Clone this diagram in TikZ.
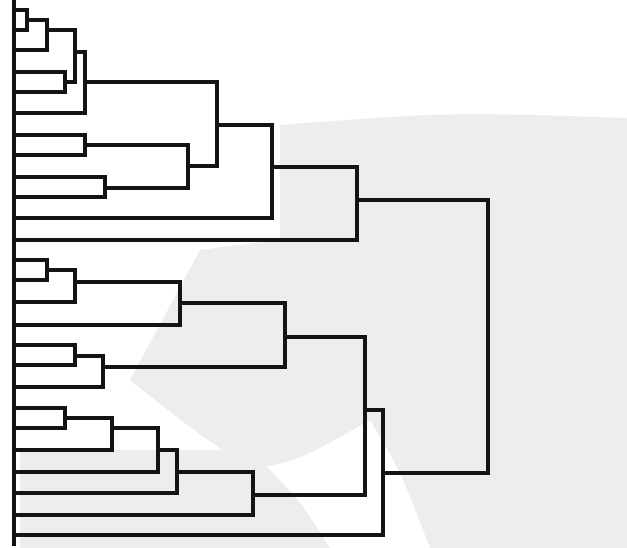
\documentclass[tikz,border=0pt]{standalone}
\begin{document}
\begin{tikzpicture}[x=1pt,y=-1pt,
  link/.style={line width=3.2pt,line join=miter,draw=black!92},
  vlink/.style={line width=4.4pt,line cap=rect,draw=black!92},
  axisline/.style={line width=4pt,draw=black!92},
  shade/.style={fill=black!7,draw=none}]
\useasboundingbox (0,0) rectangle (627,548);
% faint halftone background
\fill[shade] (280,125) .. controls (450,112) .. (627,118) -- (627,548) -- (430,548)
  .. controls (400,470) .. (370,420) .. controls (300,460) .. (250,470)
  .. controls (180,420) .. (130,380) -- (200,250) -- (280,240) -- cycle;
\fill[shade] (20,450) -- (250,450) .. controls (300,500) .. (330,548) -- (20,548) -- cycle;
% leaves
\foreach \i/\y in {1/10,2/30,3/50,4/72,5/92,6/113,7/135,8/155,9/177,10/197,
  11/218,12/240,13/260,14/280,15/302,16/325,17/345,18/365,19/387,20/408,
  21/428,22/450,23/472,24/493,25/515,26/535}
  \coordinate (l\i) at (14,\y);
% cluster nodes (x, outgoing y)
\coordinate (A) at (27,20);
\coordinate (B) at (47,30);
\coordinate (C) at (65,82);
\coordinate (D) at (75,52);
\coordinate (E) at (85,82);
\coordinate (F) at (85,145);
\coordinate (G) at (105,188);
\coordinate (H) at (188,166);
\coordinate (I) at (217,125);
\coordinate (J) at (272,167);
\coordinate (K) at (357,200);
\coordinate (M) at (47,270);
\coordinate (N) at (75,282);
\coordinate (O) at (180,303);
\coordinate (P) at (75,356);
\coordinate (Q) at (103,367);
\coordinate (R) at (285,337);
\coordinate (U) at (65,418);
\coordinate (V) at (112,428);
\coordinate (W) at (158,450);
\coordinate (X) at (177,472);
\coordinate (Y) at (253,495);
\coordinate (S) at (365,410);
\coordinate (Z) at (383,473);
\coordinate (L) at (488,336);
% axis
\coordinate (axtop) at (14,0);
\coordinate (axbot) at (14,546);
\draw[axisline] (axtop) -- (axbot);
% links: child1 -| parent |- child2
\foreach \a/\p/\b in {l1/A/l2, A/B/l3, l4/C/l5, B/D/C, D/E/l6, l7/F/l8,
  l9/G/l10, F/H/G, E/I/H, I/J/l11, J/K/l12, l13/M/l14, M/N/l15, N/O/l16,
  l17/P/l18, P/Q/l19, O/R/Q, l20/U/l21, U/V/l22, V/W/l23, W/X/l24, X/Y/l25,
  R/S/Y, S/Z/l26, K/L/Z}
  {\draw[link] (\a) -| (\p) |- (\b);
   \draw[vlink] (\a -| \p) -- (\b -| \p);}
\end{tikzpicture}
\end{document}
